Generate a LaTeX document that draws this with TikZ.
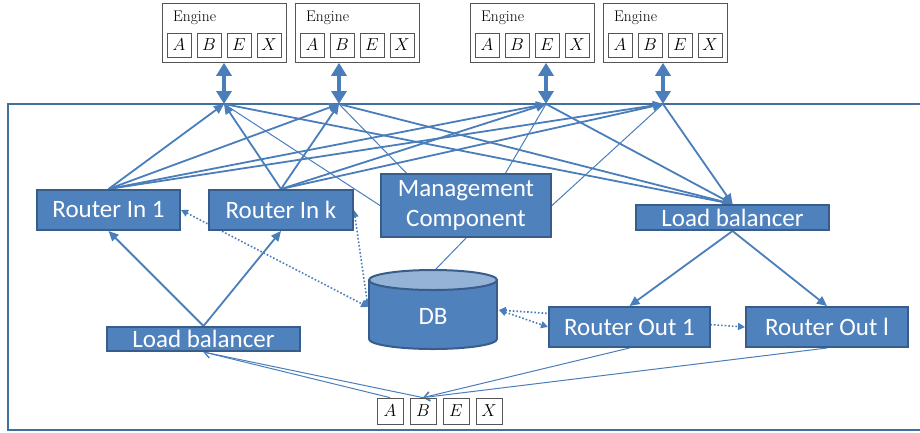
\documentclass[tikz,border=0pt]{standalone}
\usepackage{fontspec}
\newfontfamily\carl{Carlito}
\usetikzlibrary{arrows.meta,calc}
\definecolor{nfill}{HTML}{4F81BD}
\definecolor{nbord}{HTML}{385D8A}
\definecolor{lcol}{HTML}{4A7EBB}
\definecolor{dbtop}{HTML}{95B3D7}
\definecolor{egray}{HTML}{555555}
\definecolor{fcol}{HTML}{41709F}
\pgfdeclarelayer{bg}
\pgfsetlayers{bg,main}
\newcommand\enginebox[2]{%
  \node[engfr, anchor=north west] (#1) at (#2,3) {};
  \node[engtxt, anchor=west] (#1t) at (#2+11,17.5) {Engine};
  \foreach \L [count=\i from 0] in {A,B,E,X} {\node[letbox] (#1\L) at (#2+17+30*\i,45) {$\L$};}
}
\begin{document}
\begin{tikzpicture}[x=1pt,y=-1pt,
  comp/.style={draw=nbord, line width=2pt, fill=nfill, text=white, inner sep=0pt,
    font=\carl\fontsize{25}{30}\selectfont},
  engfr/.style={draw=egray, line width=0.8pt, minimum width=124, minimum height=59, inner sep=0pt},
  engtxt/.style={inner sep=0pt, font=\fontsize{15.5}{18}\selectfont},
  letbox/.style={draw=egray, line width=0.8pt, minimum size=24, inner sep=0pt, font=\fontsize{16}{19}\selectfont},
  botbox/.style={draw=egray, line width=0.8pt, minimum size=26, inner sep=0pt, font=\fontsize{17}{20}\selectfont},
  arr/.style={draw=lcol, line width=1.8pt, -{Triangle[length=10pt,width=9pt]}},
  thinl/.style={draw=lcol, line width=1pt},
  barb/.style={draw=lcol, line width=1pt, -{Straight Barb[length=6pt,width=9pt]}},
  dots/.style={draw=lcol, line width=1.6pt, dotted, {Triangle[length=7pt,width=7pt]}-{Triangle[length=7pt,width=7pt]}},
  engarrow/.style={draw=lcol, line width=3.8pt, {Triangle[length=13pt,width=15pt]}-{Triangle[length=13pt,width=15pt]}},
  frame/.style={draw=fcol, line width=2.2pt}
]
\useasboundingbox (0,0) rectangle (920,432);

% engines
\enginebox{e1}{162}
\enginebox{e2}{295}
\enginebox{e3}{470}
\enginebox{e4}{603}

% hubs
\coordinate (h1) at (224,104);
\coordinate (h2) at (339,104);
\coordinate (h3) at (546,104);
\coordinate (h4) at (663,104);

% components
\node[comp, minimum width=143, minimum height=40] (rin1) at (108.5,210) {Router In 1};
\node[comp, minimum width=144, minimum height=40] (rink) at (281,210) {Router In k};
\node[comp, minimum width=170, minimum height=63, align=center] (mc) at (466,205.5) {Management\\Component};
\node[comp, minimum width=193, minimum height=25] (lbr) at (732.5,217.5) {Load balancer};
\node[comp, minimum width=193, minimum height=24] (lbl) at (203.5,339) {Load balancer};
\node[comp, minimum width=161, minimum height=40] (rout1) at (629.5,327) {Router Out 1};
\node[comp, minimum width=162, minimum height=40] (routl) at (827,327) {Router Out l};

% DB cylinder
\filldraw[fill=nfill, draw=nbord, line width=2pt] (433,339) ellipse [x radius=64, y radius=10];
\fill[nfill] (369,280) rectangle (497,339);
\draw[nbord, line width=2pt] (369,280) -- (369,339) (497,280) -- (497,339);
\filldraw[fill=dbtop, draw=nbord, line width=2pt] (433,280) ellipse [x radius=64, y radius=10];
\node[text=white, inner sep=0pt, font=\carl\fontsize{25}{30}\selectfont] (db) at (433,316) {DB};
\coordinate (dbW) at (368,307);
\coordinate (dbE) at (499,310);
\coordinate (dbN) at (435,270);

% bottom message
\foreach \L [count=\i from 0] in {A,B,E,X} {\node[botbox] (b\L) at (390+33*\i,411) {$\L$};}

\begin{pgfonlayer}{bg}
\draw[frame] (921,104) -- (8,104) -- (8,430) -- (921,430);
\foreach \e/\h in {e1/h1,e2/h2,e3/h3,e4/h4} \draw[engarrow] (\e.south -| \h) -- (\h);
\foreach \r in {rin1,rink} \foreach \h in {h1,h2,h3,h4} \draw[arr] (\r.north) -- (\h);
\foreach \h in {h1,h2,h3,h4} \draw[arr] (\h) -- (lbr.north);
\draw[thinl] (h1) -- (mc.west);
\draw[thinl] (h2) -- ($(mc.north west)!0.153!(mc.north east)$);
\draw[thinl] (h3) -- ($(mc.north west)!0.73!(mc.north east)$);
\draw[thinl] (h4) -- (mc.east);
\draw[thinl] (mc.south) -- (dbN);
\draw[arr] (lbl.north) -- (rin1.south);
\draw[arr] (lbl.north) -- (rink.south);
\draw[arr] (lbr.south) -- (rout1.north);
\draw[arr] (lbr.south) -- (routl.north);
\draw[barb] (bA.north) -- (lbl.south);
\draw[barb] (bB.north) -- (lbl.south);
\draw[barb] (rout1.south) -- (bB.north);
\draw[barb] (routl.south) -- (bB.north);
\draw[dots] (rin1.east) -- (dbW);
\draw[dots] (rink.east) -- (dbW);
\draw[dots] (dbE) -- (rout1.west);
\draw[dots] (dbE) -- (routl.west);
\end{pgfonlayer}
\end{tikzpicture}
\end{document}
